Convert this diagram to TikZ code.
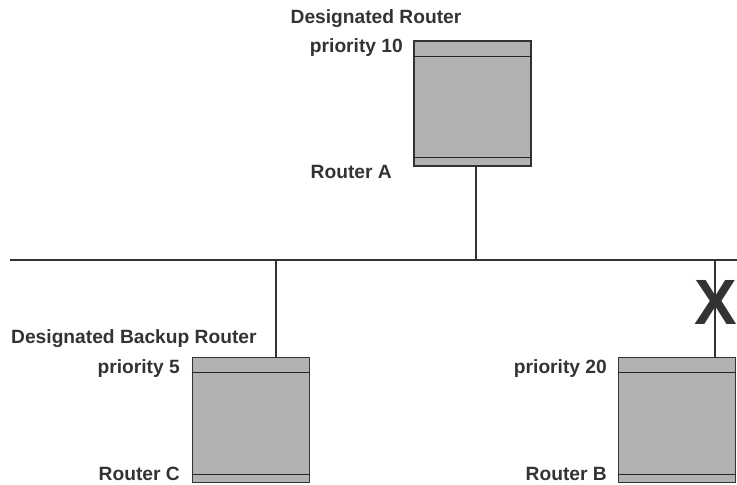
\documentclass[tikz,border=0pt]{standalone}
\usepackage{fontspec}
\setmainfont{Liberation Sans}
\begin{document}
\begin{tikzpicture}[x=1pt,y=-1pt,
  txt/.style={font=\fontsize{19.2}{21}\selectfont\bfseries, text=black!80, inner sep=0pt},
  routerbox/.style={draw=black!80, line width=1.8pt, fill=black!30, minimum width=117pt, minimum height=125pt, inner sep=0pt},
  wire/.style={draw=black!80, line width=1.2pt},
  band/.style={draw=black!85, line width=0.9pt}]
\useasboundingbox (0,0) rectangle (737,485);
% routers
\node[routerbox] (A) at (472.5,103.5) {};
\node[routerbox] (C) at (251,420) {};
\node[routerbox] (B) at (677,420) {};
\foreach \r in {A,C,B}{
  \draw[band] ([yshift=-16pt]\r.north west) -- ([yshift=-16pt]\r.north east);
  \draw[band] ([yshift=9pt]\r.south west) -- ([yshift=9pt]\r.south east);
}
% bus
\coordinate (busL) at (10,260);
\coordinate (busR) at (737,260);
\draw[wire] (busL) -- (busR);
\coordinate (ja) at (476,260);
\coordinate (jc) at (276,260);
\coordinate (jb) at (715,260);
\draw[wire] (A.south -| ja) -- (ja);
\draw[wire] (jc) -- (C.north -| jc);
\draw[wire] (jb) -- (B.north -| jb);
% X mark
\node[font=\fontsize{64}{64}\selectfont\bfseries, text=black!80, inner sep=0pt] (X) at (716,302) {X};
% labels
\node[txt, anchor=base] (dr) at (376,23) {Designated Router};
\node[txt, anchor=base east] (pa) at (403,52) {priority 10};
\node[txt, anchor=base east] (ra) at (392,178) {Router A};
\node[txt, anchor=base west] (dbr) at (11,343) {Designated Backup Router};
\node[txt, anchor=base east] (pc) at (180,373) {priority 5};
\node[txt, anchor=base east] (rc) at (180,480) {Router C};
\node[txt, anchor=base east] (pb) at (607,373) {priority 20};
\node[txt, anchor=base east] (rb) at (607,480) {Router B};
\end{tikzpicture}
\end{document}
